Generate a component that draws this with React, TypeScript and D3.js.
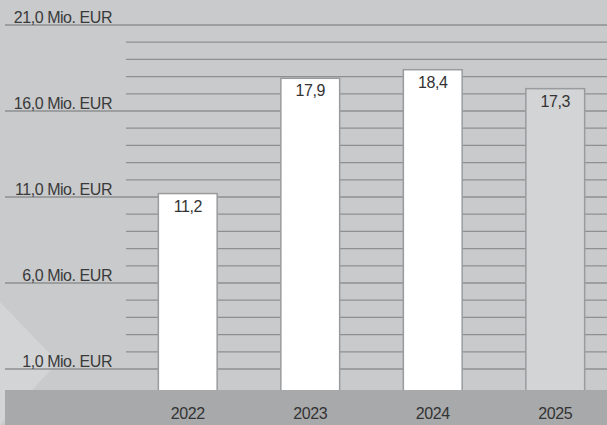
import React from "react";
import * as d3 from "d3";

const years = ["2022", "2023", "2024", "2025"];
const values = [11.2, 17.9, 18.4, 17.3];
const valueLabels = ["11,2", "17,9", "18,4", "17,3"];
const forecast = [false, false, false, true];
const majorTicks = [1, 6, 11, 16, 21];
const majorLabels = ["1,0 Mio. EUR", "6,0 Mio. EUR", "11,0 Mio. EUR", "16,0 Mio. EUR", "21,0 Mio. EUR"];
const minorTicks = d3.range(1, 22, 1).filter((v) => !majorTicks.includes(v));

const W = 607;
const H = 425;

export default function App() {
  const y = d3.scaleLinear().domain([0, 21]).range([386.2, 25]);
  const x = d3
    .scaleBand<string>()
    .domain(years)
    .range([126.5, 616.5])
    .paddingInner(0.52)
    .paddingOuter(0.26);
  const font = "'Liberation Sans', Arial, Helvetica, sans-serif";
  const ls = -0.45;
  return (
    <svg
      width={W}
      height={H}
      style={{ position: "absolute", left: 0, top: 0, display: "block" }}
      fontFamily={font}
    >
      <rect x={0} y={0} width={W} height={H} fill="#c9cacc" />
      <polygon points="0,302 58,362 0,425" fill="#d3d4d6" />
      {minorTicks.map((t) => (
        <line key={"mi" + t} x1={126} x2={W} y1={y(t)} y2={y(t)} stroke="#8e8f91" strokeWidth={1.3} />
      ))}
      {majorTicks.map((t) => (
        <line key={"ma" + t} x1={5} x2={W} y1={y(t)} y2={y(t)} stroke="#8e8f91" strokeWidth={1.5} />
      ))}
      {majorTicks.map((t, i) => (
        <text key={"ml" + t} x={112} y={y(t) - 2.5} textAnchor="end" fontSize={16} letterSpacing={ls} fill="#3a3a3a">
          {majorLabels[i]}
        </text>
      ))}
      {years.map((yr, i) => (
        <g key={yr}>
          <rect
            x={x(yr)!}
            y={y(values[i])}
            width={x.bandwidth()}
            height={392 - y(values[i])}
            fill={forecast[i] ? "#d3d4d6" : "#ffffff"}
            stroke="#9a9b9d"
            strokeWidth={1.5}
          />
          <text
            x={x(yr)! + x.bandwidth() / 2}
            y={y(values[i]) + 18}
            textAnchor="middle"
            fontSize={16}
            letterSpacing={ls}
            fill="#333333"
          >
            {valueLabels[i]}
          </text>
        </g>
      ))}
      <rect x={5} y={390} width={W - 5} height={H - 390} fill="#a8a9ab" />
      {years.map((yr) => (
        <text
          key={"yl" + yr}
          x={x(yr)! + x.bandwidth() / 2}
          y={418.5}
          textAnchor="middle"
          fontSize={16}
          letterSpacing={ls}
          fill="#333333"
        >
          {yr}
        </text>
      ))}
    </svg>
  );
}
